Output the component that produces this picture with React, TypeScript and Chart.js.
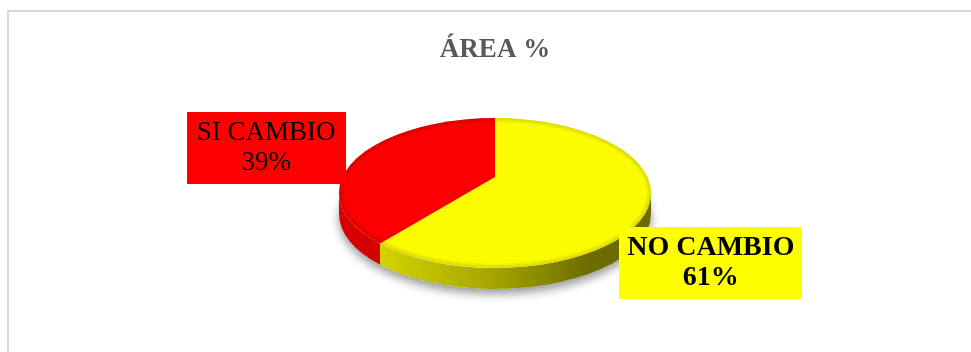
import React, { useEffect, useRef } from "react";
import { Chart, registerables } from "chart.js";

Chart.register(...registerables);

// ---- data ----
const TITLE = "ÁREA %";
const categories = ["NO CAMBIO", "SI CAMBIO"];
const values = [61, 39];

// ---- styles ----
const TOP_COLORS = ["#fcfc00", "#fc0000"];
const BOX_COLORS = ["#ffff00", "#ff0000"];
const LABEL_WEIGHTS = ["bold", "normal"];
const LABEL_SIZES = [28, 27];
const LABEL_PADS = [8, 10];
const LABEL_OFFSETS = [
  [-19, 29],
  [6, -4],
];
const SERIF = '"Liberation Serif", "Times New Roman", serif';

// pseudo-3D geometry
const TILT = 0.48;
const RIM_RX = 156;
const RIM_RY = 75;
const RIM_DROP = 16;
const DEPTH = 21;
const LABEL_FACTOR = 1.6;

function shade(hex: string, f: number) {
  const n = parseInt(hex.slice(1), 16);
  const r = Math.round(((n >> 16) & 255) * f);
  const g = Math.round(((n >> 8) & 255) * f);
  const b = Math.round((n & 255) * f);
  return `rgb(${r},${g},${b})`;
}

function rimAngle(a: number) {
  const dx = Math.cos(a);
  const dy = TILT * Math.sin(a);
  const A = (dx * dx) / (RIM_RX * RIM_RX) + (dy * dy) / (RIM_RY * RIM_RY);
  const B = (-2 * RIM_DROP * dy) / (RIM_RY * RIM_RY);
  const C = (RIM_DROP * RIM_DROP) / (RIM_RY * RIM_RY) - 1;
  const t = (-B + Math.sqrt(B * B - 4 * A * C)) / (2 * A);
  const px = t * dx;
  const py = t * dy - RIM_DROP;
  return Math.atan2(py / RIM_RY, px / RIM_RX);
}

const pie3dPlugin = {
  id: "pie3d",
  beforeDraw(chart: any) {
    const ctx = chart.ctx;
    ctx.save();
    ctx.fillStyle = "#ffffff";
    ctx.fillRect(0, 0, chart.width, chart.height);
    ctx.fillStyle = "#d9d9d9";
    ctx.fillRect(7, 10, chart.width - 7, 2);
    ctx.fillRect(7, 10, 2, chart.height - 10);
    ctx.restore();
  },
  beforeDatasetsDraw(chart: any) {
    const ctx = chart.ctx;
    const meta = chart.getDatasetMeta(0);
    const els = meta.data;
    if (!els.length) return;
    const ax = els[0].x;
    const ay = els[0].y;
    const cx = ax;
    const cy = ay + RIM_DROP;

    // shadow
    ctx.save();
    ctx.shadowColor = "rgba(0,0,0,0.4)";
    ctx.shadowBlur = 10;
    ctx.shadowOffsetY = 5;
    ctx.fillStyle = "#ffffff";
    ctx.beginPath();
    ctx.ellipse(cx, cy + DEPTH, RIM_RX, RIM_RY, 0, 0, Math.PI * 2);
    ctx.fill();
    ctx.restore();

    // side walls
    els.forEach((el: any, i: number) => {
      const b1 = rimAngle(el.startAngle);
      let b2 = rimAngle(el.endAngle);
      while (b2 <= b1) b2 += Math.PI * 2;
      const base = TOP_COLORS[i % TOP_COLORS.length];
      const grad = ctx.createLinearGradient(cx - RIM_RX, 0, cx + RIM_RX, 0);
      grad.addColorStop(0, shade(base, 0.86));
      grad.addColorStop(0.15, shade(base, 0.83));
      grad.addColorStop(0.5, shade(base, 0.65));
      grad.addColorStop(0.8, shade(base, 0.43));
      grad.addColorStop(1, shade(base, 0.42));
      for (const shift of [-Math.PI * 2, 0, Math.PI * 2]) {
        const lo = Math.max(b1, shift);
        const hi = Math.min(b2, Math.PI + shift);
        if (hi > lo) {
          ctx.save();
          ctx.fillStyle = grad;
          ctx.beginPath();
          ctx.ellipse(cx, cy, RIM_RX, RIM_RY, 0, lo, hi, false);
          ctx.ellipse(cx, cy + DEPTH, RIM_RX, RIM_RY, 0, hi, lo, true);
          ctx.closePath();
          ctx.fill();
          ctx.restore();
        }
      }
    });

    // top face transform (clip to rim, tilt about apex)
    ctx.save();
    ctx.beginPath();
    ctx.ellipse(cx, cy, RIM_RX, RIM_RY, 0, 0, Math.PI * 2);
    ctx.clip();
    ctx.translate(ax, ay);
    ctx.scale(1, TILT);
    ctx.translate(-ax, -ay);
  },
  afterDatasetsDraw(chart: any) {
    const ctx = chart.ctx;
    ctx.restore();
    const meta = chart.getDatasetMeta(0);
    const els = meta.data;
    if (!els.length) return;
    const ax = els[0].x;
    const ay = els[0].y;
    const cx = ax;
    const cy = ay + RIM_DROP;

    // bevel on top face edge
    ctx.save();
    ctx.beginPath();
    ctx.ellipse(cx, cy, RIM_RX, RIM_RY, 0, 0, Math.PI * 2);
    ctx.clip();
    for (const w of [9, 6, 3]) {
      ctx.lineWidth = w;
      ctx.strokeStyle = "rgba(0,0,0,0.045)";
      ctx.beginPath();
      ctx.ellipse(cx, cy, RIM_RX, RIM_RY, 0, 0, Math.PI * 2);
      ctx.stroke();
    }
    ctx.restore();

    // data labels
    const data = chart.data.datasets[0].data as number[];
    const total = data.reduce((s, v) => s + v, 0);
    els.forEach((el: any, i: number) => {
      const mid = (el.startAngle + el.endAngle) / 2;
      const off = LABEL_OFFSETS[i];
      const lx = cx + RIM_RX * LABEL_FACTOR * Math.cos(mid) + off[0];
      const ly = cy + RIM_RY * LABEL_FACTOR * Math.sin(mid) + off[1];
      const size = LABEL_SIZES[i];
      const lines = [
        chart.data.labels[i] as string,
        Math.round((data[i] / total) * 100) + "%",
      ];
      ctx.save();
      ctx.font = `${LABEL_WEIGHTS[i]} ${size}px ${SERIF}`;
      const tw = Math.max(...lines.map((l) => ctx.measureText(l).width));
      const lineH = 30;
      const bw = Math.round(tw + 2 * LABEL_PADS[i]);
      const bh = lineH * lines.length + 12;
      ctx.fillStyle = BOX_COLORS[i];
      ctx.fillRect(Math.round(lx - bw / 2), Math.round(ly - bh / 2), bw, bh);
      ctx.fillStyle = "#000000";
      ctx.textAlign = "center";
      ctx.textBaseline = "middle";
      lines.forEach((l, j) => {
        ctx.fillText(l, lx, ly - (lineH * (lines.length - 1)) / 2 + j * lineH);
      });
      ctx.restore();
    });
  },
};

export default function App() {
  const ref = useRef<HTMLCanvasElement>(null);
  useEffect(() => {
    if (!ref.current) return;
    const chart = new Chart(ref.current, {
      type: "pie",
      data: {
        labels: categories,
        datasets: [
          {
            data: values,
            backgroundColor: TOP_COLORS,
            borderWidth: 0,
            radius: 220,
            clip: false as any,
          } as any,
        ],
      },
      options: {
        animation: false,
        responsive: false,
        devicePixelRatio: 1,
        events: [],
        layout: { padding: { left: 19, right: 0, top: 0, bottom: 64.4 } },
        plugins: {
          legend: { display: false },
          tooltip: { enabled: false },
          title: {
            display: true,
            text: TITLE,
            color: "#595959",
            font: { family: SERIF, size: 27, weight: "bold" },
            padding: { top: 34, bottom: 0 },
          },
        },
      },
      plugins: [pie3dPlugin],
    });
    return () => chart.destroy();
  }, []);
  return (
    <div
      style={{
        position: "fixed",
        left: 0,
        top: 0,
        width: 971,
        height: 352,
        background: "#fff",
      }}
    >
      <canvas
        ref={ref}
        width={971}
        height={352}
        style={{ display: "block", width: 971, height: 352 }}
      />
    </div>
  );
}
